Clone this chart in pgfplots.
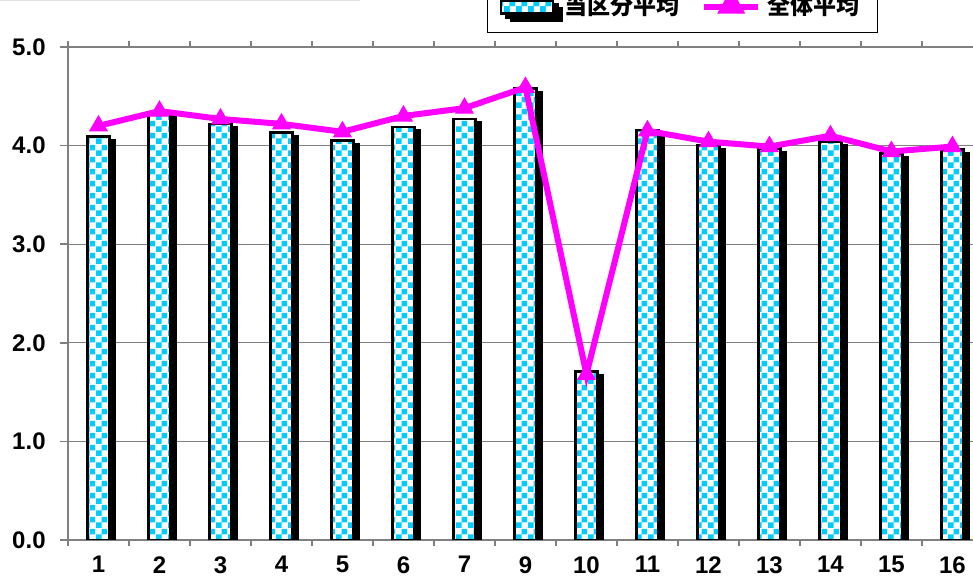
\documentclass[border=0pt]{standalone}
\usepackage{pgfplots}
\pgfplotsset{compat=1.18}
\usetikzlibrary{patterns}
\usepackage{fontspec}
\setmainfont{Liberation Sans}
\newfontfamily\cjk{Noto Sans CJK JP}
\definecolor{cy}{HTML}{00CCFF}
\definecolor{mag}{HTML}{FF00FF}
\pgfdeclarepatternformonly{mychecker}{\pgfpointorigin}{\pgfpoint{6pt}{6pt}}{\pgfpoint{6pt}{6pt}}{%
  \pgfpathrectangle{\pgfpointorigin}{\pgfpoint{3pt}{3pt}}%
  \pgfpathrectangle{\pgfpoint{3pt}{3pt}}{\pgfpoint{3pt}{3pt}}%
  \pgfusepath{fill}}
\pgfplotstableread{
x bar line
0 4.09 4.20
1 4.34 4.35
2 4.22 4.27
3 4.13 4.22
4 4.05 4.14
5 4.19 4.30
6 4.27 4.38
7 4.58 4.59
8 1.71 1.68
9 4.16 4.15
10 4.00 4.04
11 3.97 3.99
12 4.04 4.10
13 3.92 3.94
14 3.96 3.99
}\datatable
\pgfplotsset{
  barlegend/.style={legend image code/.code={\fill[black] (2.5pt,-5pt) rectangle (28pt,1pt); \draw[line width=1.3pt, fill=white, postaction={pattern=mychecker, pattern color=cy}] (0pt,-3.5pt) rectangle (26pt,3pt);}},
  linelegend/.style={legend image code/.code={\draw[mag, line width=3pt] (0pt,0pt) -- (27pt,0pt); \fill[mag] (13.5pt,6pt) -- (18pt,-2pt) -- (9pt,-2pt) -- cycle;}},
}
\begin{document}
\fontsize{12}{14}\selectfont
\begin{tikzpicture}
\path[use as bounding box, clip] (-34pt,-18pt) rectangle (452.5pt,270pt);
\draw[gray!25, line width=0.6pt] (-34pt,269.6pt) -- (146pt,269.6pt);
\begin{axis}[
  at={(0pt,0pt)}, anchor=south west,
  scale only axis,
  width=453.5pt, height=246.5pt,
  xmin=-0.5, xmax=14.37,
  ymin=0, ymax=5,
  ytick={0,1,2,3,4,5},
  yticklabels={0.0,1.0,2.0,3.0,4.0,5.0},
  yticklabel style={font=\fontsize{12}{14}\selectfont\bfseries, xshift=-3pt},
  y tick style={gray, line width=0.8pt},
  tick align=outside,
  major tick length=4pt,
  xtick={0,...,14},
  xticklabels={1,2,3,4,5,6,7,9,10,11,12,13,14,15,16},
  xticklabel style={font=\fontsize{12}{14}\selectfont\bfseries, yshift=0pt},
  x tick style={draw=none},
  minor xtick={-0.5,0.5,...,14.5},
  minor x tick style={draw=gray, line width=0.6pt},
  minor tick length=3pt,
  ymajorgrids,
  grid style={gray, line width=0.6pt},
  axis line style={black, line width=0.8pt},
  y axis line style={gray},
  x axis line style={gray},
  clip=true,
  legend style={at={(axis description cs:0.4620,1.0284)}, anchor=south west,
    draw=black, line width=0.6pt, legend columns=2,
    font=\cjk\fontsize{11.5}{14}\selectfont\bfseries,
    /tikz/every even column/.append style={column sep=8pt},
    nodes={inner xsep=3pt},
    inner xsep=6pt, inner ysep=5pt},
  legend cell align=left,
]
\addplot[ybar, bar width=11pt, draw=black, line width=1.3pt, fill=white,
  preaction={fill=black, draw=black, transform canvas={xshift=2.5pt, yshift=-1.8pt}},
  postaction={pattern=mychecker, pattern color=cy},
  barlegend
] table[x=x, y=bar] {\datatable};
\addlegendentry{当区分平均}
\addplot[mag, line width=3pt, mark=triangle*, mark size=5pt, mark options={solid, line width=0.5pt, fill=mag},
  linelegend
] table[x=x, y=line] {\datatable};
\addlegendentry{全体平均}
\end{axis}
\end{tikzpicture}
\end{document}
